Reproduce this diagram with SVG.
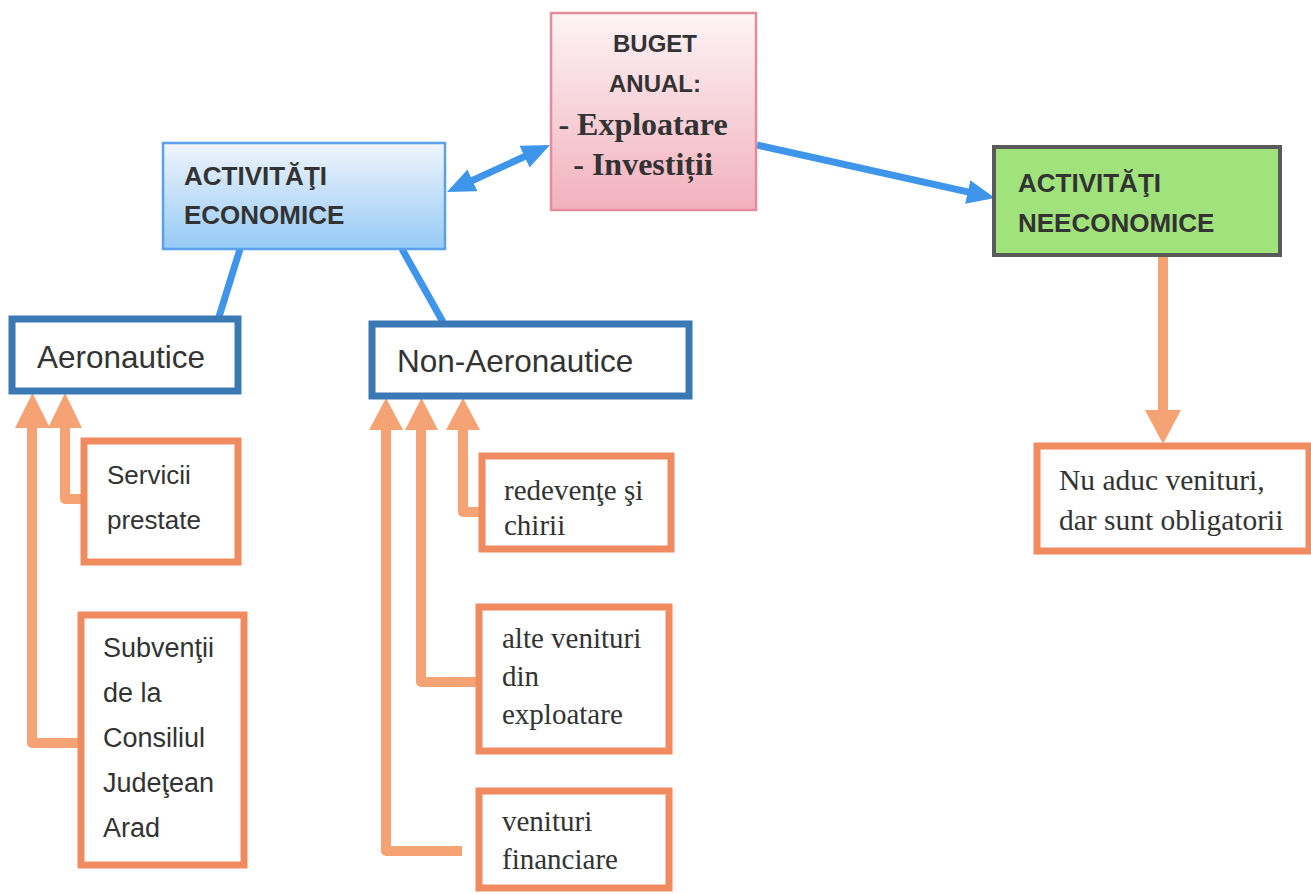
<svg xmlns="http://www.w3.org/2000/svg" width="1311" height="894" viewBox="0 0 1311 894">
<defs>
<linearGradient id="gPink" x1="0" y1="0" x2="0" y2="1">
<stop offset="0" stop-color="#fdf4f6"/>
<stop offset="1" stop-color="#f2b1bd"/>
</linearGradient>
<linearGradient id="gBlue" x1="0" y1="0" x2="0" y2="1">
<stop offset="0" stop-color="#f0f5fc"/>
<stop offset="1" stop-color="#96caf5"/>
</linearGradient>
<marker id="bh" markerUnits="userSpaceOnUse" viewBox="0 0 28 24" markerWidth="28" markerHeight="24" refX="8" refY="12" orient="auto-start-reverse">
<path d="M0,0 L28,12 L0,24 z" fill="#3f95ea"/>
</marker>
<style>
.sb{font-family:"Liberation Sans",Arial,sans-serif;font-weight:bold;fill:#333}
.s{font-family:"Liberation Sans",Arial,sans-serif;fill:#333}
.r{font-family:"Liberation Serif","Times New Roman",serif;fill:#333}
.rb{font-family:"Liberation Serif","Times New Roman",serif;font-weight:bold;fill:#333}
.ob{fill:#fff;stroke:#f08b60;stroke-width:7}
.bb{fill:#fff;stroke:#3b79b5;stroke-width:7}
.blue{stroke:#3f95ea;stroke-width:7;fill:none}
.or{stroke:#f5a275;stroke-width:10;fill:none;stroke-linejoin:round}
.oh{fill:#f5a275}
</style>
</defs>
<rect width="1311" height="894" fill="#fff"/>

<g id="connectors">
<line class="blue" x1="465.2" y1="183.7" x2="531.8" y2="153.3" marker-start="url(#bh)" marker-end="url(#bh)"/>
<line class="blue" x1="757" y1="145" x2="975.5" y2="193.7" marker-end="url(#bh)"/>
<line class="blue" x1="240" y1="249" x2="218" y2="320"/>
<line class="blue" x1="402" y1="249" x2="443" y2="322"/>
<polyline class="or" points="81,743 32,743 32,425"/>
<polygon class="oh" points="15,428 50,428 32.5,393"/>
<polyline class="or" points="84,499 65,499 65,425"/>
<polygon class="oh" points="48,428 82,428 65,393"/>
<polyline class="or" points="462,851 386,851 386,427"/>
<polygon class="oh" points="369,430 403,430 386,398"/>
<polyline class="or" points="479,682 421,682 421,427"/>
<polygon class="oh" points="405,430 438,430 421.5,398"/>
<polyline class="or" points="482,512 463,512 463,427"/>
<polygon class="oh" points="446,430 480,430 463,398"/>
<line class="or" x1="1163" y1="256" x2="1163" y2="412"/>
<polygon class="oh" points="1145,410 1181,410 1163,444"/>
</g>

<g id="buget">
<rect x="551" y="13" width="205" height="197" fill="url(#gPink)" stroke="#e58c9c" stroke-width="2.5"/>
<text class="sb" x="655" y="52" font-size="24" text-anchor="middle">BUGET</text>
<text class="sb" x="655" y="92" font-size="24" text-anchor="middle">ANUAL:</text>
<text class="rb" x="643" y="135" font-size="32" text-anchor="middle">- Exploatare</text>
<text class="rb" x="643" y="175" font-size="32" text-anchor="middle">- Investiții</text>
</g>

<g id="economice">
<rect x="163" y="143" width="282" height="106" fill="url(#gBlue)" stroke="#5aa0ec" stroke-width="2.5"/>
<text class="sb" x="184" y="185" font-size="26">ACTIVITĂŢI</text>
<text class="sb" x="184" y="224" font-size="26">ECONOMICE</text>
</g>

<g id="neeconomice">
<rect x="994" y="147" width="286" height="108" fill="#a0e27c" stroke="#5a5a5a" stroke-width="4"/>
<text class="sb" x="1018" y="192" font-size="26">ACTIVITĂŢI</text>
<text class="sb" x="1018" y="232" font-size="26">NEECONOMICE</text>
</g>

<g id="aeronautice">
<rect class="bb" x="12" y="319" width="226" height="72"/>
<text class="s" x="37" y="368" font-size="31.5">Aeronautice</text>
</g>

<g id="non-aeronautice">
<rect class="bb" x="372" y="324" width="317" height="72"/>
<text class="s" x="397" y="372" font-size="31.5">Non-Aeronautice</text>
</g>

<g id="servicii">
<rect class="ob" x="84" y="441" width="154" height="121"/>
<text class="s" x="107" y="484" font-size="26">Servicii</text>
<text class="s" x="107" y="529" font-size="26">prestate</text>
</g>

<g id="subventii">
<rect class="ob" x="81" y="615" width="163" height="250"/>
<text class="s" x="103" y="657" font-size="27">Subvenţii</text>
<text class="s" x="103" y="702" font-size="27">de la</text>
<text class="s" x="103" y="747" font-size="27">Consiliul</text>
<text class="s" x="103" y="792" font-size="27">Judeţean</text>
<text class="s" x="103" y="837" font-size="27">Arad</text>
</g>

<g id="redevente">
<rect class="ob" x="482" y="456" width="189" height="93"/>
<text class="r" x="504" y="500" font-size="29">redevenţe şi</text>
<text class="r" x="504" y="535" font-size="29">chirii</text>
</g>

<g id="alte-venituri">
<rect class="ob" x="479" y="607" width="190" height="144"/>
<text class="r" x="502" y="648" font-size="29">alte venituri</text>
<text class="r" x="502" y="686" font-size="29">din</text>
<text class="r" x="502" y="724" font-size="29">exploatare</text>
</g>

<g id="venituri-financiare">
<rect class="ob" x="479" y="791" width="190" height="97"/>
<text class="r" x="502" y="831" font-size="29">venituri</text>
<text class="r" x="502" y="869" font-size="29">financiare</text>
</g>

<g id="nu-aduc">
<rect class="ob" x="1037" y="446" width="272" height="105"/>
<text class="r" x="1059" y="490" font-size="29.5">Nu aduc venituri,</text>
<text class="r" x="1059" y="530" font-size="29.5">dar sunt obligatorii</text>
</g>
</svg>
